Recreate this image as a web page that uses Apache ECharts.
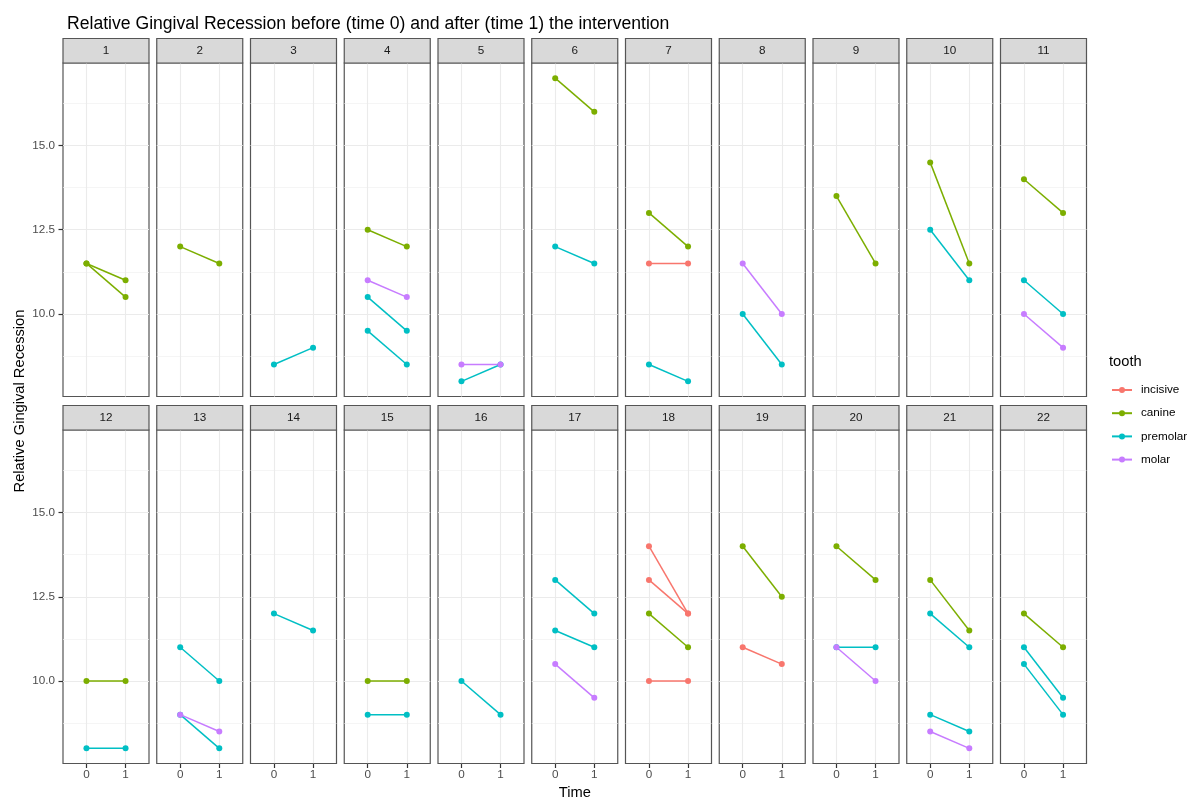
<!DOCTYPE html>
<html>
<head>
<meta charset="utf-8">
<script src="https://cdn.jsdelivr.net/npm/echarts@6/dist/echarts.min.js"></script>
<style>
  html, body { margin: 0; padding: 0; background: #ffffff; }
  #chart { width: 1192px; height: 800px; }
</style>
</head>
<body>
<div id="chart"></div>
<script>
// ---------------- DATA ----------------
const panelLabels = ['1','2','3','4','5','6','7','8','9','10','11','12','13','14','15','16','17','18','19','20','21','22'];
const toothTypes = ['incisive', 'canine', 'premolar', 'molar'];
const toothColors = ['#F8766D', '#7CAE00', '#00BFC4', '#C77CFF'];
const timeTicks = [0, 1];
const yMajorTicks = [10, 12.5, 15];
const yMinorTicks = [8.75, 11.25, 13.75, 16.25];

// one entry per tooth line (patient panel, tooth type, value at time 0, value at time 1)
const linePanel = [1,1, 2, 3, 4,4,4,4, 5,5, 6,6, 7,7,7, 8,8, 9, 10,10, 11,11,11,
                   12,12, 13,13,13, 14, 15,15, 16, 17,17,17, 18,18,18,18, 19,19, 20,20,20, 21,21,21,21, 22,22,22];
const lineTooth = ['canine','canine', 'canine', 'premolar',
                   'canine','molar','premolar','premolar',
                   'molar','premolar',
                   'canine','premolar',
                   'canine','incisive','premolar',
                   'molar','premolar',
                   'canine',
                   'canine','premolar',
                   'canine','premolar','molar',
                   'canine','premolar',
                   'premolar','molar','premolar',
                   'premolar',
                   'canine','premolar',
                   'premolar',
                   'premolar','premolar','molar',
                   'incisive','incisive','canine','incisive',
                   'canine','incisive',
                   'canine','premolar','molar',
                   'canine','premolar','premolar','molar',
                   'canine','premolar','premolar'];
const valueTime0 = [11.5,11.5, 12, 8.5,
                    12.5,11,10.5,9.5,
                    8.5,8,
                    17,12,
                    13,11.5,8.5,
                    11.5,10,
                    13.5,
                    14.5,12.5,
                    14,11,10,
                    10,8,
                    11,9,9,
                    12,
                    10,9,
                    10,
                    13,11.5,10.5,
                    14,13,12,10,
                    14,11,
                    14,11,11,
                    13,12,9,8.5,
                    12,11,10.5];
const valueTime1 = [11,10.5, 11.5, 9,
                    12,10.5,9.5,8.5,
                    8.5,8.5,
                    16,11.5,
                    12,11.5,8,
                    10,8.5,
                    11.5,
                    11.5,11,
                    13,10,9,
                    10,8,
                    10,8.5,8,
                    11.5,
                    10,9,
                    9,
                    12,11,9.5,
                    12,12,11,10,
                    12.5,10.5,
                    13,11,10,
                    11.5,11,8.5,8,
                    11,9.5,9];

// ---------------- LAYOUT ----------------
const NCOL = 11;
const PLOT_LEFT = 63, PANEL_W = 86, PANEL_STEP = 93.75;
const STRIP_TOP = 38.5, STRIP_H = 24.5, PLOT_H = 333.5, ROW_STEP = 367;
const FONT = '"Liberation Sans", Arial, "DejaVu Sans", sans-serif';
const BORDER = '#555555';
const TICK = '#333333';

// y range: data range expanded 5% (ggplot default)
const allVals = valueTime0.concat(valueTime1);
const dMin = Math.min.apply(null, allVals), dMax = Math.max.apply(null, allVals);
const yMin = dMin - 0.05 * (dMax - dMin), yMax = dMax + 0.05 * (dMax - dMin);

const grids = [], xAxes = [], yAxes = [], graphics = [];
panelLabels.forEach(function (lab, i) {
  const row = Math.floor(i / NCOL), col = i % NCOL;
  const left = PLOT_LEFT + col * PANEL_STEP;
  const stripTop = STRIP_TOP + row * ROW_STEP;
  const top = stripTop + STRIP_H;
  const isBottom = row === 1, isLeft = col === 0;
  grids.push({ left: left, top: top, width: PANEL_W, height: PLOT_H,
    show: true, backgroundColor: '#ffffff', borderColor: BORDER, borderWidth: 1.2, containLabel: false });
  xAxes.push({ type: 'value', gridIndex: i, min: -0.6, max: 1.6, position: 'bottom',
    axisLine: { show: false, onZero: false },
    axisTick: { show: isBottom, customValues: timeTicks, length: 4.5, lineStyle: { color: TICK, width: 1.2 } },
    axisLabel: { show: isBottom, customValues: timeTicks, margin: 5.5, color: '#4d4d4d', fontSize: 11.7, fontFamily: FONT,
      formatter: function (v) { return String(v); } },
    splitLine: { show: true, lineStyle: { color: '#ebebeb', width: 1.1 } } });
  yAxes.push({ type: 'value', gridIndex: i, min: yMin, max: yMax, position: 'left',
    axisLine: { show: false, onZero: false },
    axisTick: { show: isLeft, customValues: yMajorTicks, length: 4.5, lineStyle: { color: TICK, width: 1.2 } },
    axisLabel: { show: isLeft, customValues: yMajorTicks, margin: 8, color: '#4d4d4d', fontSize: 11.7, fontFamily: FONT,
      formatter: function (v) { return v.toFixed(1); } },
    splitLine: { show: true, lineStyle: { color: '#ebebeb', width: 1.1 } } });
  yAxes.push({ type: 'value', gridIndex: i, min: yMin, max: yMax, position: 'right',
    axisLine: { show: false, onZero: false },
    axisTick: { show: false, customValues: yMinorTicks },
    axisLabel: { show: false },
    splitLine: { show: true, lineStyle: { color: '#f0f0f0', width: 0.7 } } });
  // facet strip
  graphics.push({ type: 'rect', shape: { x: left, y: stripTop, width: PANEL_W, height: STRIP_H },
    style: { fill: '#d9d9d9', stroke: BORDER, lineWidth: 1.2 }, z: 10 });
  graphics.push({ type: 'text', x: left + PANEL_W / 2, y: stripTop + STRIP_H / 2 + 0.5,
    style: { text: lab, fill: '#1a1a1a', font: '11.7px ' + FONT, align: 'center', verticalAlign: 'middle' }, z: 11 });
});

// axis titles
graphics.push({ type: 'text', x: (PLOT_LEFT + PLOT_LEFT + (NCOL - 1) * PANEL_STEP + PANEL_W) / 2, y: 793,
  style: { text: 'Time', fill: '#000000', font: '14.7px ' + FONT, align: 'center', verticalAlign: 'middle' } });
graphics.push({ type: 'text', x: 20, y: (STRIP_TOP + STRIP_TOP + ROW_STEP + STRIP_H + PLOT_H) / 2, rotation: Math.PI / 2,
  style: { text: 'Relative Gingival Recession', fill: '#000000', font: '14.7px ' + FONT, align: 'center', verticalAlign: 'middle' } });

// series: one line per tooth, drawn in tooth order
const order = valueTime0.map(function (_, k) { return k; }).sort(function (a, b) {
  return toothTypes.indexOf(lineTooth[a]) - toothTypes.indexOf(lineTooth[b]) || a - b;
});
const series = order.map(function (k) {
  const ti = toothTypes.indexOf(lineTooth[k]);
  const p = linePanel[k] - 1;
  return {
    type: 'line', name: lineTooth[k], xAxisIndex: p, yAxisIndex: p * 2,
    data: [[timeTicks[0], valueTime0[k]], [timeTicks[1], valueTime1[k]]],
    symbol: 'circle', symbolSize: 6, showSymbol: true,
    color: toothColors[ti],
    itemStyle: { color: toothColors[ti] },
    lineStyle: { color: toothColors[ti], width: 1.5 },
    emphasis: { disabled: true }, silent: true, z: 3
  };
});

const chart = echarts.init(document.getElementById('chart'), null, { renderer: 'canvas' });
chart.setOption({
  animation: false,
  backgroundColor: '#ffffff',
  title: [
    { text: 'Relative Gingival Recession before (time 0) and after (time 1) the intervention',
      left: 62, top: 10, textStyle: { fontSize: 17.6, fontWeight: 'normal', color: '#000000', fontFamily: FONT } },
    { text: 'tooth', left: 1109, top: 354, textStyle: { fontSize: 14.7, fontWeight: 'normal', color: '#000000', fontFamily: FONT }, padding: 0 }
  ],
  legend: {
    data: toothTypes, orient: 'vertical', left: 1111, top: 384, padding: 0,
    itemWidth: 20, itemHeight: 7.5, itemGap: 11.2, selectedMode: false,
    textStyle: { fontSize: 11.7, color: '#000000', fontFamily: FONT, padding: [0, 0, 0, 4] }
  },
  grid: grids, xAxis: xAxes, yAxis: yAxes, series: series, graphic: graphics
});
</script>
</body>
</html>
